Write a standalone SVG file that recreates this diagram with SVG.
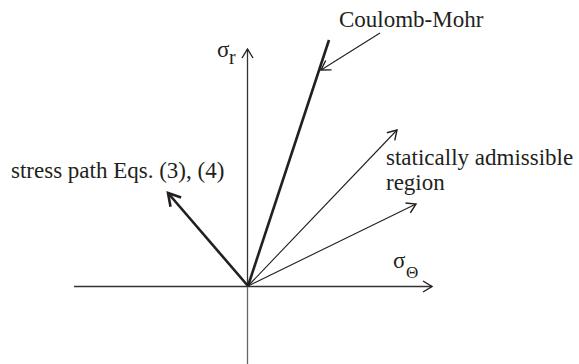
<svg xmlns="http://www.w3.org/2000/svg" width="579" height="364" viewBox="0 0 579 364">
<defs>
<style>
.lbl{font-family:"Liberation Serif","Times New Roman",serif;font-size:23px;fill:#231f20}
.sub{font-family:"Liberation Serif","Times New Roman",serif;fill:#231f20}
.thin{stroke:#231f20;stroke-width:1.1;fill:none}
.axis{stroke:#333;stroke-width:1.3;fill:none}
.thick{stroke:#231f20;stroke-width:2.6;fill:none}
</style>
<marker id="ah" markerUnits="userSpaceOnUse" markerWidth="30" markerHeight="30" refX="0" refY="0" orient="auto" overflow="visible">
<path d="M-9,-5.5 L0,0 L-9,5.5" fill="none" stroke="#231f20" stroke-width="1.4"/>
</marker>
<marker id="ahk" markerUnits="userSpaceOnUse" markerWidth="30" markerHeight="30" refX="0" refY="0" orient="auto" overflow="visible">
<path d="M-12,-7 L0,0 L-12,7" fill="none" stroke="#231f20" stroke-width="2.6"/>
</marker>
</defs>
<rect width="579" height="364" fill="#fff"/>
<g id="connectors">
<line class="axis" x1="74" y1="286.5" x2="432" y2="286.5" marker-end="url(#ah)"/>
<line x1="247.5" y1="364" x2="247.5" y2="286.5" stroke="#666" stroke-width="1.3"/>
<line class="axis" x1="247.5" y1="286.5" x2="247.5" y2="49" marker-end="url(#ah)"/>
<line class="thick" x1="248" y1="286" x2="329" y2="40"/>
<line class="thin" x1="380" y1="33" x2="321" y2="70" marker-end="url(#ah)"/>
<line class="thin" x1="248" y1="286" x2="397" y2="130" marker-end="url(#ah)"/>
<line class="thin" x1="248" y1="286" x2="416" y2="204" marker-end="url(#ah)"/>
<line class="thick" x1="248" y1="286" x2="168" y2="193" marker-end="url(#ahk)"/>
</g>
<g id="coulomb-mohr"><text class="lbl" x="339" y="27">Coulomb-Mohr</text></g>
<g id="sigma-r"><text class="sub" x="217" y="57" font-size="23">σ</text><text class="sub" x="229" y="64" font-size="20">r</text></g>
<g id="sigma-theta"><text class="sub" x="393" y="268" font-size="23">σ</text><text class="sub" x="406" y="278" font-size="17">Θ</text></g>
<g id="admissible"><text class="lbl" x="386" y="165">statically admissible</text><text class="lbl" x="386" y="190">region</text></g>
<g id="stress-path"><text class="lbl" x="11" y="178">stress path Eqs. (3), (4)</text></g>
</svg>
